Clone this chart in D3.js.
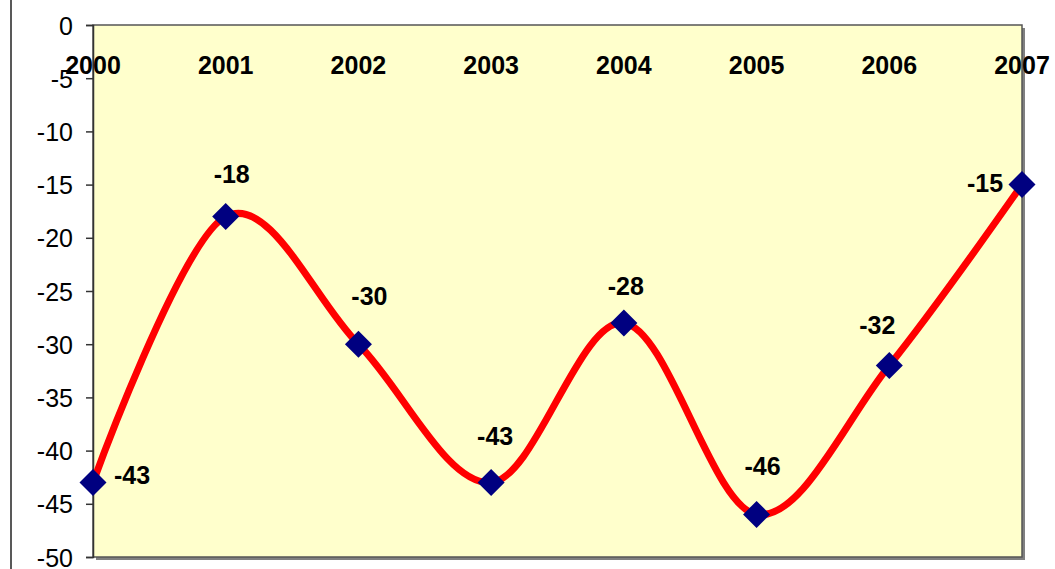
<!DOCTYPE html>
<html>
<head>
<meta charset="utf-8">
<script src="https://cdn.jsdelivr.net/npm/d3@7"></script>
<style>
  body { margin: 0; background: #fff; }
  text { font-family: "Liberation Sans", Arial, sans-serif; }
</style>
</head>
<body>
<svg id="chart" width="1055" height="569"></svg>
<script>
const years = ["2000", "2001", "2002", "2003", "2004", "2005", "2006", "2007"];
const values = [-43, -18, -30, -43, -28, -46, -32, -15];
const yTicks = [0, -5, -10, -15, -20, -25, -30, -35, -40, -45, -50];

const svgWidth = 1055;
const svgHeight = 569;
const plotLeft = 93;
const plotRight = 1022;
const plotTop = 25;
const plotBottom = 557;
const fontSize = 25;

const svg = d3.select("#chart");

const xScale = d3.scalePoint()
    .domain(years)
    .range([plotLeft, plotRight]);

const yScale = d3.scaleLinear()
    .domain([-50, 0])
    .range([plotBottom, plotTop]);

const points = years.map((y, i) => ({ year: y, value: values[i] }));

// outer chart border (only left edge falls inside the crop)
svg.append("line")
    .attr("x1", 11).attr("x2", 11)
    .attr("y1", 0).attr("y2", svgHeight)
    .attr("stroke", "#222")
    .attr("stroke-width", 1.5);

// plot area with shadow
svg.append("rect")
    .attr("x", plotLeft + 3).attr("y", plotTop + 3)
    .attr("width", plotRight - plotLeft).attr("height", plotBottom - plotTop)
    .attr("fill", "#808080");
svg.append("rect")
    .attr("x", plotLeft).attr("y", plotTop)
    .attr("width", plotRight - plotLeft).attr("height", plotBottom - plotTop)
    .attr("fill", "#FFFFCC")
    .attr("stroke", "#555")
    .attr("stroke-width", 1.5);

// y axis
const yAxis = d3.axisLeft(yScale)
    .tickValues(yTicks)
    .tickSize(7)
    .tickPadding(13)
    .tickFormat(d => d === 0 ? "0" : "-" + Math.abs(d));

const yG = svg.append("g")
    .attr("transform", `translate(${plotLeft},0)`)
    .call(yAxis);
yG.select(".domain").attr("stroke", "#333").attr("stroke-width", 1.5);
yG.selectAll(".tick line").attr("stroke", "#333").attr("stroke-width", 1.5);
yG.selectAll(".tick text")
    .attr("font-size", fontSize)
    .attr("fill", "#000")
    .attr("dy", "0.36em")
    .style("font-family", "'Liberation Sans', Arial, sans-serif");

// x labels along the top (category axis crosses at 0)
svg.append("g")
    .selectAll("text")
    .data(years)
    .join("text")
    .attr("x", d => xScale(d))
    .attr("y", 74)
    .attr("text-anchor", "middle")
    .attr("font-size", fontSize)
    .attr("font-weight", "bold")
    .text(d => d);

// smoothed line
const myLine = d3.line()
    .x(d => xScale(d.year))
    .y(d => yScale(d.value))
    .curve(d3.curveCardinal.tension(0));

svg.append("path")
    .datum(points)
    .attr("d", myLine)
    .attr("fill", "none")
    .attr("stroke", "#FF0000")
    .attr("stroke-width", 7);

// diamond markers
svg.selectAll(".marker")
    .data(points)
    .join("path")
    .attr("class", "marker")
    .attr("transform", d => `translate(${xScale(d.year)},${yScale(d.value)})`)
    .attr("d", "M0,-13.5L13.5,0L0,13.5L-13.5,0Z")
    .attr("fill", "#000080");

// data labels, offsets mimic Excel's placement
const labelOffset = [[39, -8], [6, -43], [11, -48], [4, -47], [2, -37], [6, -48], [-12, -40], [-37, -2]];

svg.selectAll(".dlabel")
    .data(points)
    .join("text")
    .attr("class", "dlabel")
    .attr("x", (d, i) => xScale(d.year) + labelOffset[i][0])
    .attr("y", (d, i) => yScale(d.value) + labelOffset[i][1] + 9)
    .attr("text-anchor", "middle")
    .attr("font-size", fontSize)
    .attr("font-weight", "bold")
    .text(d => d.value);
</script>
</body>
</html>
